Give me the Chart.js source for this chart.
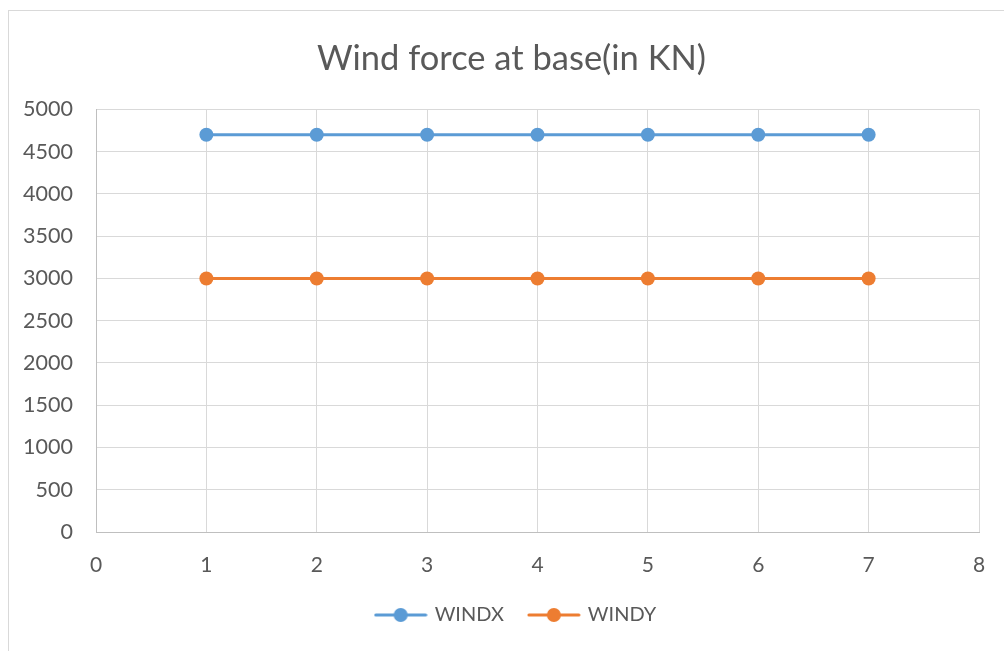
<!DOCTYPE html>
<html>
<head>
<meta charset="utf-8">
<title>Wind force at base(in KN)</title>
<script src="https://cdn.jsdelivr.net/npm/chart.js@4/dist/chart.umd.min.js"></script>
<style>
  html, body { margin: 0; padding: 0; background: #ffffff; overflow: hidden; }
  canvas { display: block; }
</style>
</head>
<body>
<canvas id="chart" width="1023" height="651"></canvas>
<script>
// Storey positions along the x axis
const positions = [1, 2, 3, 4, 5, 6, 7];
// Base wind force in kN for each direction
const windX = [4700, 4700, 4700, 4700, 4700, 4700, 4700];
const windY = [3000, 3000, 3000, 3000, 3000, 3000, 3000];
const seriesNames = ['WINDX', 'WINDY'];
const seriesColors = ['#5B9BD5', '#ED7D31'];

const FONT = 'Lato, "Open Sans", "Liberation Sans", sans-serif';
const TEXT = '#595959';

// Legend marker: short line with a dot in the middle
function lineDotMarker(color) {
  const c = document.createElement('canvas');
  c.width = 54; c.height = 16;
  const g = c.getContext('2d');
  g.strokeStyle = color;
  g.lineWidth = 3;
  g.lineCap = 'round';
  g.beginPath();
  g.moveTo(2, 8); g.lineTo(52, 8);
  g.stroke();
  g.fillStyle = color;
  g.beginPath();
  g.arc(27, 8, 7, 0, Math.PI * 2);
  g.fill();
  return c;
}

const toPoints = vals => vals.map((v, i) => ({ x: positions[i], y: v }));

// Light frame around the chart object
const framePlugin = {
  id: 'frame',
  beforeDraw(chart) {
    const ctx = chart.ctx;
    ctx.save();
    ctx.strokeStyle = '#d9d9d9';
    ctx.lineWidth = 1;
    ctx.strokeRect(8.5, 10.5, chart.width + 20, chart.height + 20);
    ctx.restore();
  }
};

// Nudge the legend row a little to the right
const legendNudge = {
  id: 'legendNudge',
  afterLayout(chart) {
    if (chart.legend) {
      chart.legend.left += 5;
      chart.legend.right += 5;
    }
  }
};

new Chart(document.getElementById('chart'), {
  type: 'line',
  data: {
    datasets: [windX, windY].map((vals, i) => ({
      label: seriesNames[i],
      data: toPoints(vals),
      borderColor: seriesColors[i],
      backgroundColor: seriesColors[i],
      borderWidth: 3,
      pointRadius: 7,
      pointHoverRadius: 7,
      pointBorderWidth: 0,
      pointBackgroundColor: seriesColors[i],
      tension: 0
    }))
  },
  options: {
    responsive: false,
    animation: false,
    devicePixelRatio: 1,
    layout: { padding: { left: 20, right: 20, top: 0, bottom: 16 } },
    plugins: {
      title: {
        display: true,
        text: 'Wind force at base(in KN)',
        color: TEXT,
        font: { family: FONT, size: 34.5, weight: 'normal' },
        padding: { top: 38, bottom: 30 }
      },
      legend: {
        display: true,
        position: 'bottom',
        labels: {
          color: TEXT,
          font: { family: FONT, size: 20 },
          usePointStyle: true,
          pointStyleWidth: 48,
          boxHeight: 16,
          padding: 26,
          generateLabels(chart) {
            return chart.data.datasets.map((ds, i) => ({
              text: ds.label,
              fillStyle: ds.borderColor,
              strokeStyle: ds.borderColor,
              lineWidth: 0,
              pointStyle: lineDotMarker(ds.borderColor),
              fontColor: TEXT,
              hidden: false,
              datasetIndex: i
            }));
          }
        }
      },
      tooltip: { enabled: false }
    },
    scales: {
      x: {
        type: 'linear',
        min: 0,
        max: 8,
        afterFit(scale) { scale.height = 47; },
        ticks: { stepSize: 1, color: TEXT, font: { family: FONT, size: 21 }, padding: 21 },
        grid: { color: '#d9d9d9', lineWidth: 1, drawTicks: false },
        border: { color: '#bfbfbf', width: 1 }
      },
      y: {
        min: 0,
        max: 5000,
        afterFit(scale) { scale.width = 76; },
        ticks: {
          stepSize: 500,
          color: TEXT,
          font: { family: FONT, size: 21.5 },
          padding: 23,
          callback: v => String(v)
        },
        grid: { color: '#d9d9d9', lineWidth: 1, drawTicks: false },
        border: { color: '#bfbfbf', width: 1 }
      },
      // empty strip on the right so the plot keeps its margin there
      gutter: {
        type: 'linear',
        position: 'right',
        min: 0,
        max: 1,
        afterFit(scale) { scale.width = 24; },
        ticks: { display: false },
        grid: { display: false, drawTicks: false },
        border: { display: false }
      }
    }
  },
  plugins: [framePlugin, legendNudge]
});
</script>
</body>
</html>
